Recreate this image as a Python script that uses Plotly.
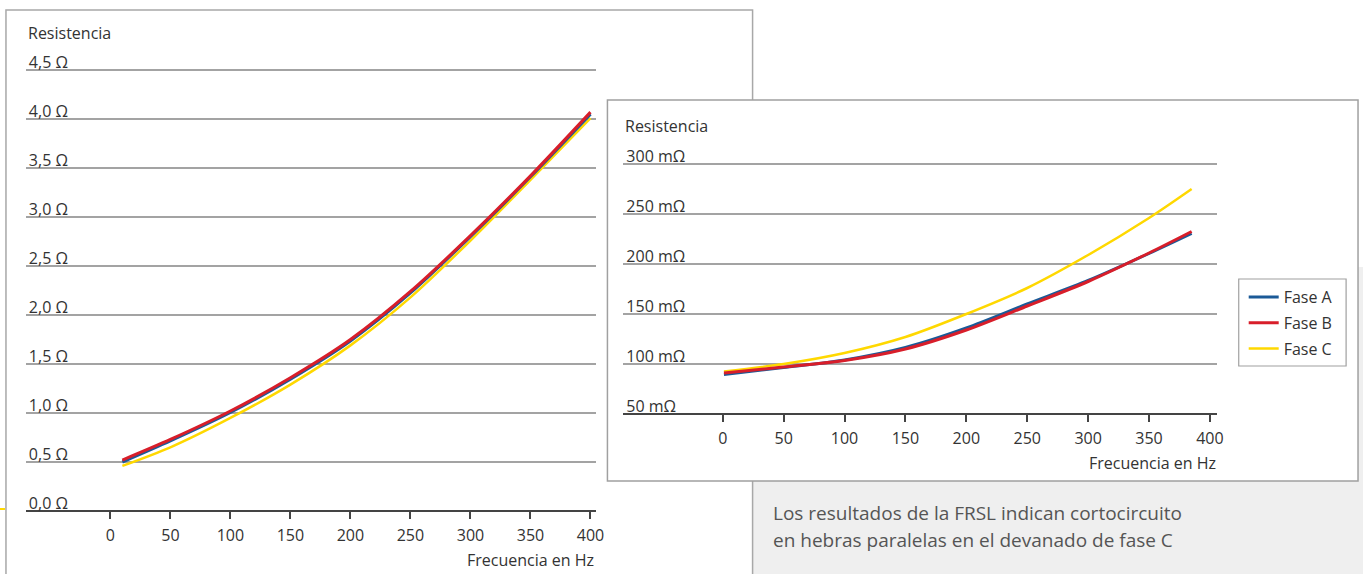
import plotly.graph_objects as go

W, H = 1371, 574

# ---------------- data ----------------
series_names = ["Fase A", "Fase B", "Fase C"]

freq_left = [10, 50, 100, 150, 200, 250, 300, 350, 400]
res_left_a = [0.50, 0.715, 1.005, 1.345, 1.735, 2.225, 2.80, 3.41, 4.05]
res_left_b = [0.52, 0.73, 1.02, 1.36, 1.75, 2.24, 2.81, 3.42, 4.07]
res_left_c = [0.46, 0.65, 0.95, 1.29, 1.69, 2.18, 2.76, 3.38, 4.01]

freq_right = [1, 50, 100, 150, 200, 250, 300, 350, 385]
res_right_a = [89.5, 96.5, 104, 116.5, 136, 160, 183.5, 210.5, 230.5]
res_right_b = [91, 97, 103.5, 115, 134, 158, 182.5, 211, 232.5]
res_right_c = [92.5, 100, 111, 127, 150, 176, 209, 246, 275]

x_tick_vals = [0, 50, 100, 150, 200, 250, 300, 350, 400]
x_tick_labels = ["0", "50", "100", "150", "200", "250", "300", "350", "400"]
left_y_tick_vals = [0, 0.5, 1.0, 1.5, 2.0, 2.5, 3.0, 3.5, 4.0, 4.5]
left_y_tick_labels = ["0,0 Ω", "0,5 Ω", "1,0 Ω", "1,5 Ω", "2,0 Ω", "2,5 Ω",
                      "3,0 Ω", "3,5 Ω", "4,0 Ω", "4,5 Ω"]
right_y_tick_vals = [50, 100, 150, 200, 250, 300]
right_y_tick_labels = ["50 mΩ", "100 mΩ", "150 mΩ", "200 mΩ", "250 mΩ", "300 mΩ"]

y_title = "Resistencia"
x_title = "Frecuencia en Hz"
note_lines = ["Los resultados de la FRSL indican cortocircuito",
              "en hebras paralelas en el devanado de fase C"]

# ---------------- style ----------------
FONT = "Open Sans"
TXT = "#333333"
GRID = "#a3a3a3"
AXIS = "#444444"
colors = {"Fase A": "#1b5a97", "Fase B": "#d81e2a", "Fase C": "#ffd800"}
widths = {"Fase A": 3, "Fase B": 3, "Fase C": 2.5}


def px(x):
    return x / W


def py(y):
    return 1 - y / H


fig = go.Figure()

left_series = {"Fase A": res_left_a, "Fase B": res_left_b, "Fase C": res_left_c}
right_series = {"Fase A": res_right_a, "Fase B": res_right_b, "Fase C": res_right_c}
draw_order = ["Fase C", "Fase A", "Fase B"]
rank = {"Fase A": 1, "Fase B": 2, "Fase C": 3}

for name in draw_order:
    fig.add_trace(go.Scatter(
        x=freq_left, y=left_series[name], name=name, mode="lines",
        line=dict(color=colors[name], width=widths[name], shape="spline", smoothing=0.8),
        xaxis="x", yaxis="y", showlegend=False, legendgroup=name,
        legendrank=rank[name], hoverinfo="skip"))

for name in draw_order:
    fig.add_trace(go.Scatter(
        x=freq_right, y=right_series[name], name=name, mode="lines",
        line=dict(color=colors[name], width=widths[name], shape="spline", smoothing=0.8),
        xaxis="x2", yaxis="y2", showlegend=True, legendgroup=name,
        legendrank=rank[name], hoverinfo="skip"))

common_x = dict(
    tickmode="array", tickvals=x_tick_vals, ticktext=x_tick_labels,
    showgrid=False, zeroline=False, showline=True, linecolor=AXIS, linewidth=2,
    ticks="outside", ticklen=7, tickwidth=1.5, tickcolor=AXIS, ticklabelstandoff=3,
    tickfont=dict(family=FONT, size=16, color=TXT), fixedrange=True, side="bottom",
)
common_y = dict(
    tickmode="array", showgrid=True, gridcolor=GRID, gridwidth=2,
    zeroline=False, showline=False, ticks="", ticklabelposition="inside top",
    ticklabelshift=4,
    tickfont=dict(family=FONT, size=16, color=TXT), fixedrange=True,
)

# left panel: 98 px per ohm, zero line at y=511 px
# right panel: 1 px per milliohm, 50 mOhm line at y=414 px
fig.update_layout(
    width=W, height=H, autosize=False,
    margin=dict(l=0, r=0, t=0, b=0, pad=0),
    paper_bgcolor="white", plot_bgcolor="rgba(0,0,0,0)",
    font=dict(family=FONT, size=16, color=TXT),
    xaxis=dict(domain=[px(26), px(600)], range=[-70.4, 405.0], anchor="free",
               position=py(511), **common_x),
    yaxis=dict(domain=[py(522), py(28)], range=[-11 / 98, 483 / 98], anchor="x",
               tickvals=left_y_tick_vals, ticktext=left_y_tick_labels, **common_y),
    xaxis2=dict(domain=[px(627), px(1224)], range=[-81.6, 405.7], anchor="free",
                position=py(414), **common_x),
    yaxis2=dict(domain=[py(425), py(118)], range=[39, 346], anchor="x2",
                tickvals=right_y_tick_vals, ticktext=right_y_tick_labels, **common_y),
    legend=dict(x=px(1251), y=py(280), xanchor="left", yanchor="top",
                bgcolor="rgba(0,0,0,0)", borderwidth=0,
                traceorder="grouped", tracegroupgap=2,
                font=dict(family=FONT, size=16, color=TXT)),
    showlegend=True,
)

shapes = [
    # grey note area
    dict(type="rect", xref="paper", yref="paper", x0=px(757), x1=px(1371), y0=py(574), y1=py(267),
         fillcolor="#efefef", line=dict(width=0), layer="below"),
    # left panel frame
    dict(type="rect", xref="paper", yref="paper", x0=px(6), x1=px(757), y0=py(590), y1=py(10),
         fillcolor="rgba(0,0,0,0)", line=dict(color="#a8a8a8", width=1.5), layer="below"),
    # right panel
    dict(type="rect", xref="paper", yref="paper", x0=px(611), x1=px(1366), y0=py(481), y1=py(100),
         fillcolor="white", line=dict(color="#a0a0a0", width=1.5), layer="below"),
    # legend frame
    dict(type="rect", xref="paper", yref="paper", x0=px(1246), x1=px(1354), y0=py(366), y1=py(279),
         fillcolor="white", line=dict(color="#a0a0a0", width=1.2), layer="below"),
    # small yellow mark at the left edge
    dict(type="line", xref="paper", yref="paper", x0=px(0), x1=px(5), y0=py(509), y1=py(509),
         line=dict(color="#ffd800", width=2), layer="above"),
]
fig.update_layout(shapes=shapes)

ann = [
    dict(text=y_title, x=px(26), y=py(33), xanchor="left", yanchor="middle"),
    dict(text=x_title, x=px(600), y=py(560), xanchor="right", yanchor="middle"),
    dict(text=y_title, x=px(627), y=py(126), xanchor="left", yanchor="middle"),
    dict(text=x_title, x=px(1225), y=py(463), xanchor="right", yanchor="middle"),
    dict(text=note_lines[0], x=px(776), y=py(513), xanchor="left", yanchor="middle",
         font=dict(family=FONT, size=19, color="#555555")),
    dict(text=note_lines[1], x=px(776), y=py(540), xanchor="left", yanchor="middle",
         font=dict(family=FONT, size=19, color="#555555")),
]
for a in ann:
    a.setdefault("font", dict(family=FONT, size=16, color=TXT))
    a.update(xref="paper", yref="paper", showarrow=False)
fig.update_layout(annotations=ann)

fig.write_html(
    "out.html",
    config={"displayModeBar": False},
    post_script="document.body.style.margin='0px';document.body.style.overflow='hidden';",
)
